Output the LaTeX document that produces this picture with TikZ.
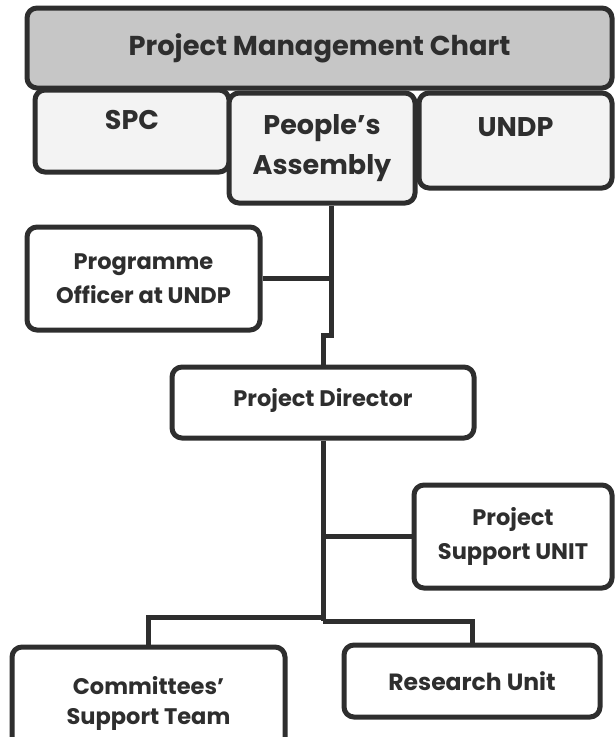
\documentclass[tikz,border=0pt]{standalone}
\usepackage{fontspec}
\setmainfont{Poppins}
\definecolor{edge}{HTML}{2E2E2E}
\definecolor{headfill}{HTML}{C6C6C6}
\definecolor{topfill}{HTML}{F3F3F3}
\begin{document}
\begin{tikzpicture}[x=1pt, y=-1pt,
  every node/.style={font=\bfseries\fontsize{22.5}{34}\selectfont, text=edge, align=center},
  box/.style={draw=edge, line width=5pt, rounded corners=10pt, fill=white},
  line/.style={draw=edge, line width=5pt}]
\useasboundingbox (0,0) rectangle (614,737);
% Nodes
\node[box, fill=topfill, minimum width=194pt, minimum height=82pt,
  label={[name=spctext, anchor=center, yshift=11pt, font=\bfseries\fontsize{27}{40}\selectfont]center:SPC}] (spc) at (132,131) {};
\node[box, fill=topfill, minimum width=193pt, minimum height=95pt,
  label={[name=undptext, anchor=center, yshift=13pt, font=\bfseries\fontsize{27}{40}\selectfont]center:UNDP}] (undp) at (515.5,140.5) {};
\node[box, fill=topfill, minimum width=186pt, minimum height=110pt, font=\bfseries\fontsize{27}{40}\selectfont] (assembly) at (322,148) {People's\\Assembly};
\node[box, fill=headfill, minimum width=585pt, minimum height=80pt, font=\bfseries\fontsize{27.3}{30}\selectfont] (title) at (319.5,48) {Project Management Chart};
\node[box, minimum width=233pt, minimum height=103pt] (officer) at (143.5,278.5) {Programme\\Officer at UNDP};
\node[box, minimum width=302pt, minimum height=71pt, text depth=10pt] (director) at (323,402.5) {Project Director};
\node[box, minimum width=198pt, minimum height=103pt] (psu) at (513,536.5) {Project\\Support UNIT};
\node[box, minimum width=273pt, minimum height=112pt, font=\bfseries\fontsize{22.5}{30}\selectfont] (committee) at (148.5,703) {Committees'\\Support Team};
\node[box, minimum width=256pt, minimum height=72pt, font=\bfseries\fontsize{23.5}{30}\selectfont] (research) at (472,681) {Research Unit};

% Lines
\coordinate (jog) at (331,335);
\coordinate (forkl) at (323,617);
\coordinate (forkr) at (323,621);
\draw[line] ([xshift=9pt]assembly.south) -- (jog) -| (director.north);
\draw[line] (officer.east) -- (officer.east -| jog);
\draw[line] (director.south) -- (forkr);
\draw[line] (psu.west) -- (psu.west -| director.south);
\draw[line] (forkl) -| (committee.north);
\draw[line] (forkr) -| (research.north);
\end{tikzpicture}
\end{document}
